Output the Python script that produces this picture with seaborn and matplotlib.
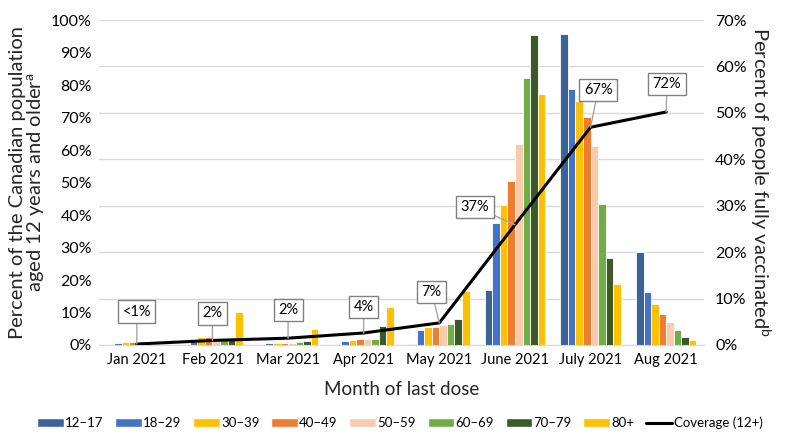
import numpy as np
import pandas as pd
import matplotlib
matplotlib.use("Agg")
import matplotlib.pyplot as plt
from matplotlib.patches import Patch
from matplotlib.lines import Line2D
import seaborn as sns

# Month categories and age groups
months = ["Jan 2021", "Feb 2021", "Mar 2021", "Apr 2021",
          "May 2021", "June 2021", "July 2021", "Aug 2021"]
ages = ["12\u201317", "18\u201329", "30\u201339", "40\u201349",
        "50\u201359", "60\u201369", "70\u201379", "80+"]
colors = ["#3A6496", "#4472C4", "#FFC000", "#ED7D31",
          "#F8CBAD", "#70AD47", "#3B5A27", "#FFC000"]

# Percent of people fully vaccinated (right axis), one list per age group
pct_12_17 = [0.0, 0.0, 0.0, 0.0, 0.2, 11.8, 67.0, 20.0]
pct_18_29 = [0.5, 1.2, 0.5, 0.9, 3.2, 26.2, 55.1, 11.4]
pct_30_39 = [0.7, 1.8, 0.5, 1.1, 3.8, 30.2, 52.6, 8.8]
pct_40_49 = [0.7, 1.8, 0.5, 1.2, 3.8, 35.3, 49.2, 6.7]
pct_50_59 = [0.4, 1.6, 0.5, 1.2, 4.2, 43.3, 42.9, 5.0]
pct_60_69 = [0.2, 1.1, 0.7, 1.2, 4.6, 57.5, 30.3, 3.2]
pct_70_79 = [0.1, 1.2, 0.8, 4.1, 5.5, 66.7, 18.7, 1.8]
pct_80_plus = [0.3, 7.2, 3.4, 8.2, 11.6, 54.1, 13.1, 1.1]

# Coverage of the population aged 12+ (left axis)
coverage = [0.3, 1.4, 2.1, 3.7, 6.8, 37.0, 67.0, 71.7]
coverage_labels = ["<1%", "2%", "2%", "4%", "7%", "37%", "67%", "72%"]
left_ticks = [0, 10, 20, 30, 40, 50, 60, 70, 80, 90, 100]
right_ticks = [0, 10, 20, 30, 40, 50, 60, 70]

series = [pct_12_17, pct_18_29, pct_30_39, pct_40_49,
          pct_50_59, pct_60_69, pct_70_79, pct_80_plus]
df = pd.DataFrame([
    {"month": m, "age": a, "pct": v}
    for a, vals in zip(ages, series)
    for m, v in zip(months, vals)
])

sns.set_style("white")
plt.rcParams["font.family"] = ["Lato", "DejaVu Sans"]
plt.rcParams["text.color"] = "black"

fig = plt.figure(figsize=(7.92, 4.44), dpi=100)
ax = fig.add_axes([99 / 792, 1 - 345 / 444, 605 / 792, 325 / 444])

# bars on the right-hand scale
sns.barplot(data=df, x="month", y="pct", hue="age", order=months,
            hue_order=ages, palette=colors, saturation=1, ax=ax,
            legend=False, edgecolor="white", linewidth=0.6, width=0.8)

# coverage line on the left-hand scale (twin axis drawn on top)
ax2 = ax.twinx()
sns.lineplot(x=np.arange(len(months)), y=coverage, ax=ax2, color="black",
             lw=2.2)

ax.set_ylim(0, 70)
ax.set_yticks(right_ticks)
ax.set_yticklabels([f"{t}%" for t in right_ticks])
ax.yaxis.tick_right()
ax.yaxis.set_label_position("right")
ax.set_ylabel("Percent of people fully vaccinated$^\\mathregular{b}$",
              fontsize=14.5, rotation=270, labelpad=19)
ax.yaxis.grid(True, color="#d9d9d9", lw=1)
ax.set_axisbelow(True)
ax.set_xlim(-0.5, 7.5)
ax.set_xlabel("Month of last dose", fontsize=13.5, labelpad=10)
ax.set_xticks(np.arange(-0.5, 8, 1), minor=True)
ax.tick_params(axis="x", which="minor", length=5, color="#d9d9d9", width=1)
ax.tick_params(axis="x", which="major", length=0, labelsize=10.5, pad=6,
               labelcolor="black")
ax.tick_params(axis="y", length=0, labelsize=11.5, pad=8, labelcolor="black")
for s in ["top", "left", "right"]:
    ax.spines[s].set_visible(False)
ax.spines["bottom"].set_color("#d9d9d9")

ax2.set_ylim(0, 100)
ax2.set_xlim(-0.5, 7.5)
ax2.set_yticks(left_ticks)
ax2.set_yticklabels([f"{t}%" for t in left_ticks])
ax2.yaxis.tick_left()
ax2.yaxis.set_label_position("left")
ax2.set_ylabel("Percent of the Canadian population\naged 12 years and older$^\\mathregular{a}$",
               fontsize=14.5, labelpad=3, linespacing=0.95)
ax2.tick_params(axis="y", length=0, labelsize=11.5, pad=5, labelcolor="black")
for s in ax2.spines.values():
    s.set_visible(False)

label_pos = [(0.0, 10.2), (1.0, 9.8), (2.0, 10.8), (3.0, 11.7),
             (3.9, 16.3), (4.47, 42.5), (6.1, 78.5), (7.01, 80.3)]
for i, (txt, (tx, ty)) in enumerate(zip(coverage_labels, label_pos)):
    ax2.annotate(txt, xy=(i, coverage[i]), xytext=(tx, ty),
                 ha="center", va="center", fontsize=10.5,
                 bbox=dict(boxstyle="square,pad=0.3", fc="white",
                           ec="#808080", lw=1),
                 arrowprops=dict(arrowstyle="-", color="#a6a6a6", lw=1,
                                 shrinkA=0, shrinkB=0))

handles = [Patch(facecolor=c, label=a) for a, c in zip(ages, colors)]
handles.append(Line2D([], [], color="black", lw=2.2, label="Coverage (12+)"))
fig.legend(handles=handles, loc="center", bbox_to_anchor=(0.505, 1 - 423 / 444),
           ncol=9, frameon=False, fontsize=9.5, handlelength=2.0,
           handleheight=0.7, handletextpad=0.1, columnspacing=0.9)

fig.savefig("out.png", dpi=100)
